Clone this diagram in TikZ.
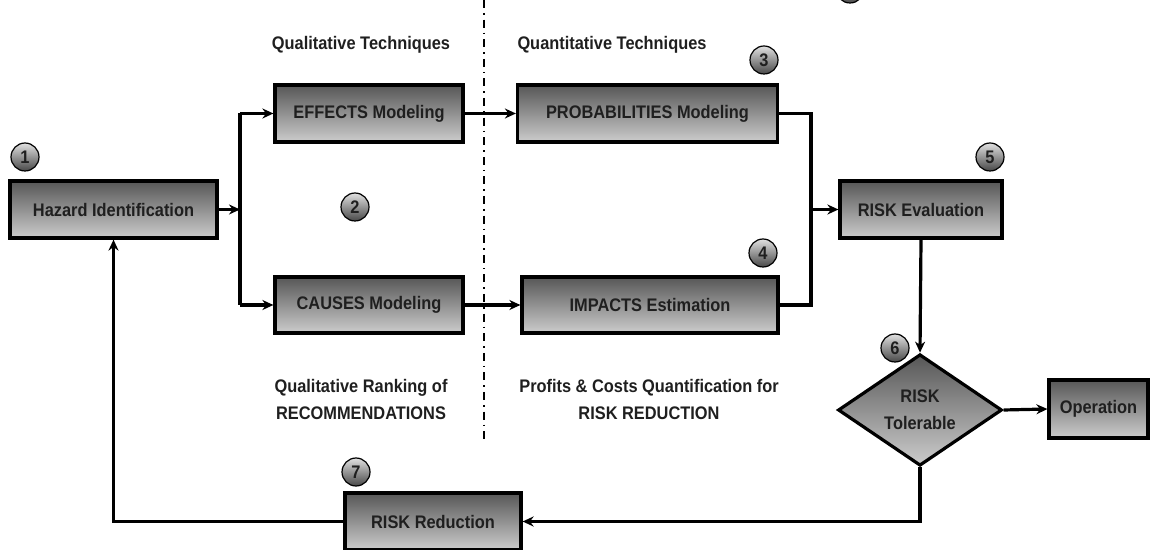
\documentclass[tikz,border=0pt]{standalone}
\usepackage{fontspec}
\setmainfont{Liberation Sans}[FakeStretch=0.9]
\usetikzlibrary{arrows.meta,shapes.geometric,shadings}
\begin{document}
\begin{tikzpicture}[x=0.5pt,y=-0.5pt,
  every node/.style={font=\bfseries\fontsize{9.1}{13.5}\selectfont, text=black!88},
  box/.style={draw=black, line width=1.6pt, rectangle, inner sep=0pt,
    top color=black!66, bottom color=black!20, align=center},
  numc/.style={circle, draw=black, line width=0.6pt, inner sep=0pt, minimum size=14pt,
    top color=black!12, bottom color=black!72},
  conn/.style={line width=1.6pt, line join=miter},
  arr/.style={conn, -{Stealth[length=5.5pt,width=5pt]}},
  divider/.style={line width=0.8pt, dash pattern=on 4pt off 2.5pt on 0.8pt off 2.5pt},
  lbl/.style={align=center}]
\useasboundingbox (0,0) rectangle (1156,550);
% divider
\coordinate (dtop) at (484,0);
\coordinate (dbot) at (484,440);
\draw[divider] (dtop) -- (dbot);
% partial legend circle (cropped)
\begin{scope}
\clip (0,0) rectangle (1156,550);
\node[numc] (cl) at (850,-11) {};
\end{scope}
% boxes
\node[box, minimum width=103.5pt, minimum height=28.5pt] (haz) at (113.5,209.5) {Hazard Identification};
\node[box, minimum width=94pt, minimum height=28.5pt] (eff) at (369,113.5) {EFFECTS Modeling};
\node[box, minimum width=130pt, minimum height=28.5pt] (prob) at (647.5,113.5) {PROBABILITIES Modeling};
\node[box, minimum width=94pt, minimum height=28pt] (cau) at (369,305) {CAUSES Modeling};
\node[box, minimum width=128pt, minimum height=28pt] (imp) at (650,305) {IMPACTS Estimation};
\node[box, minimum width=81pt, minimum height=28.5pt] (eval) at (921,209.5) {RISK Evaluation};
\node[box, diamond, minimum width=82pt, minimum height=47pt] (tol) at (920,410) {RISK\\Tolerable};
\node[box, minimum width=49.5pt, minimum height=29pt] (op) at (1098.5,409) {Operation};
\node[box, minimum width=88pt, minimum height=28.5pt] (red) at (433,521.5) {RISK Reduction};
% number circles
\node[numc] (n1) at (25,157) {1};
\node[numc] (n2) at (355,207) {2};
\node[numc] (n3) at (764,60) {3};
\node[numc] (n4) at (763,253) {4};
\node[numc] (n5) at (990,157) {5};
\node[numc] (n6) at (895,348) {6};
\node[numc] (n7) at (356,472) {7};
% labels
\node[lbl] (ql) at (361,45) {Qualitative Techniques};
\node[lbl] (qn) at (612,45) {Quantitative Techniques};
\node[lbl] (qr) at (361,399) {Qualitative Ranking of\\RECOMMENDATIONS};
\node[lbl] (pc) at (649,399) {Profits \& Costs Quantification for\\RISK REDUCTION};
% connectors
\coordinate (sm) at (240,209.5);
\coordinate (st) at (240,113.5);
\coordinate (sb) at (240,305);
\coordinate (mt) at (811,113.5);
\coordinate (mb) at (811,305);
\coordinate (mm) at (811,209.5);
\draw[arr] (haz.east) -- (sm);
\draw[conn] (st) -- (sb);
\draw[arr] (st) -- (eff.west);
\draw[arr] (sb) -- (cau.west);
\draw[arr] (eff.east) -- (prob.west);
\draw[arr] (cau.east) -- (imp.west);
\draw[conn] (prob.east) -- (mt) -- (mb) -- (imp.east);
\draw[arr] (mm) -- (eval.west);
\draw[arr] (eval.south) -- (tol.north);
\draw[arr] (tol.east) -- (op.west);
\draw[arr] (tol.south) |- (red.east);
\draw[arr] (red.west) -| (haz.south);
\end{tikzpicture}
\end{document}
